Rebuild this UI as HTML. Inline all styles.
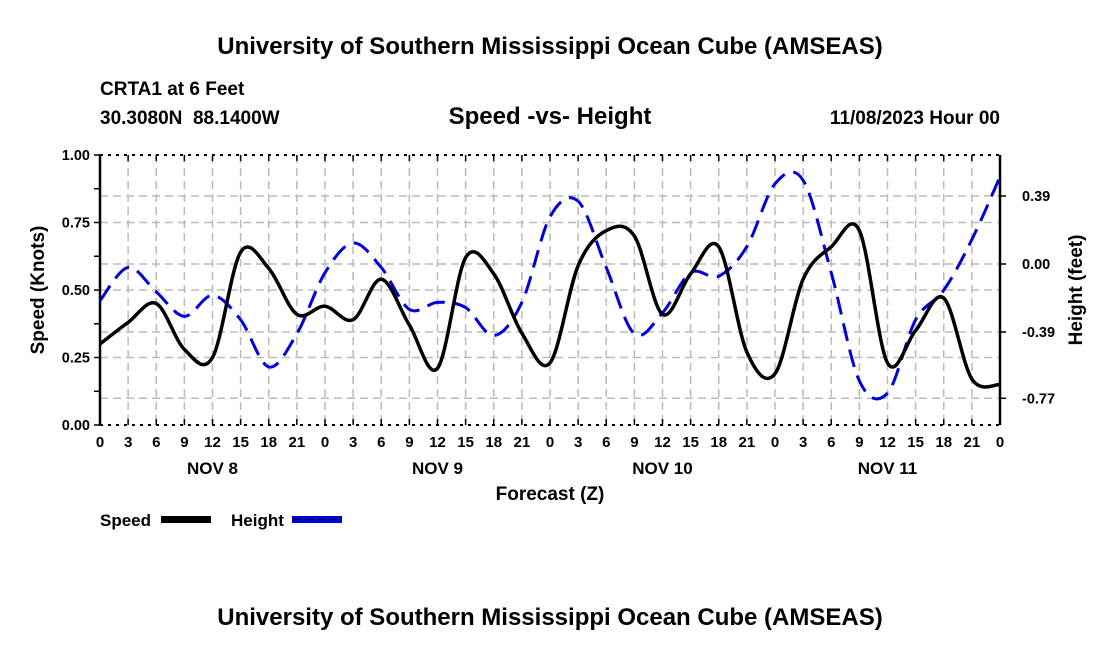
<!DOCTYPE html>
<html><head><meta charset="utf-8"><style>
body{margin:0;background:#fff;width:1100px;height:650px;overflow:hidden}
svg text{font-family:"Liberation Sans",Arial,sans-serif;font-weight:bold;fill:#000}
</style></head><body>
<svg id="chart" width="1100" height="650" xmlns="http://www.w3.org/2000/svg">
<text x="550" y="54" font-size="24" text-anchor="middle">University of Southern Mississippi Ocean Cube (AMSEAS)</text>
<text x="100" y="95" font-size="19">CRTA1 at 6 Feet</text>
<text x="100" y="124" font-size="19">30.3080N &#160;88.1400W</text>
<text x="550" y="124" font-size="24" text-anchor="middle">Speed -vs- Height</text>
<text x="1000" y="124" font-size="19" text-anchor="end">11/08/2023 Hour 00</text>
<g id="grid"></g>
<g id="axes"></g>
<g id="series"></g>
<text transform="translate(44,290) rotate(-90)" font-size="19" text-anchor="middle">Speed (Knots)</text>
<text transform="translate(1082,290) rotate(-90)" font-size="19" text-anchor="middle">Height (feet)</text>
<text x="550" y="500" font-size="19" text-anchor="middle">Forecast (Z)</text>
<g>
<text x="100" y="526" font-size="17">Speed</text>
<rect x="161" y="516" width="50" height="7" fill="#000"/>
<text x="231" y="526" font-size="17">Height</text>
<rect x="292" y="516" width="50" height="7" fill="#0000dd"/>
<line x1="294" y1="519.5" x2="342" y2="519.5" stroke="#000" stroke-width="1" stroke-dasharray="7 5"/>
</g>
<text x="550" y="625" font-size="24" text-anchor="middle">University of Southern Mississippi Ocean Cube (AMSEAS)</text>
</svg>
<script>
const hours=[0,3,6,9,12,15,18,21,24,27,30,33,36,39,42,45,48,51,54,57,60,63,66,69,72,75,78,81,84,87,90,93,96];
const speed=[0.30,0.38,0.45,0.28,0.25,0.64,0.58,0.41,0.44,0.39,0.54,0.37,0.21,0.62,0.56,0.34,0.23,0.59,0.72,0.70,0.41,0.56,0.66,0.27,0.19,0.54,0.66,0.72,0.23,0.35,0.47,0.17,0.15];
const height=[-0.21,-0.02,-0.16,-0.30,-0.18,-0.32,-0.59,-0.40,-0.05,0.12,-0.02,-0.26,-0.22,-0.25,-0.41,-0.22,0.27,0.36,-0.02,-0.40,-0.28,-0.05,-0.07,0.10,0.46,0.48,-0.05,-0.67,-0.74,-0.32,-0.15,0.14,0.50];
const speedTicks=[0,0.25,0.5,0.75,1.0];
const speedTickLabels=["0.00","0.25","0.50","0.75","1.00"];
const heightTicks=[0.39,0,-0.39,-0.77];
const heightTickLabels=["0.39","0.00","-0.39","-0.77"];
const dayLabels=["NOV 8","NOV 9","NOV 10","NOV 11"];
const dayHours=[12,36,60,84];

const X0=100,X1=1000,Y0=425,Y1=155;
const xs=h=>X0+(X1-X0)*h/96;
const ys=v=>Y0-(Y0-Y1)*v/1.0;
const yh=v=>264-v*174.4;
const NS="http://www.w3.org/2000/svg";
function mk(parent,tag,attrs){const e=document.createElementNS(NS,tag);for(const k in attrs)e.setAttribute(k,attrs[k]);parent.appendChild(e);return e;}
const grid=document.getElementById('grid'),axes=document.getElementById('axes'),series=document.getElementById('series');
const gs={stroke:"#bbb","stroke-width":1.5,"stroke-dasharray":"8 5"};
hours.forEach((h,i)=>{if(i>0&&i<hours.length-1){const l=mk(grid,'line',Object.assign({x1:xs(h),x2:xs(h),y1:Y1,y2:Y0},gs));

}});
[0.25,0.5,0.75].forEach(v=>{const l=mk(grid,'line',Object.assign({x1:X0,x2:X1,y1:ys(v),y2:ys(v)},gs));

});
heightTicks.forEach(v=>{const l=mk(grid,'line',Object.assign({x1:X0,x2:X1,y1:yh(v),y2:yh(v)},gs));

});
mk(axes,'line',{x1:X0,x2:X0,y1:Y1,y2:Y0,stroke:"#000","stroke-width":2.5});
mk(axes,'line',{x1:X1,x2:X1,y1:Y1,y2:Y0,stroke:"#000","stroke-width":2.5});
mk(axes,'line',{x1:X0,x2:X1,y1:Y1,y2:Y1,stroke:"#000","stroke-width":2,"stroke-dasharray":"3 5"});
mk(axes,'line',{x1:X0,x2:X1,y1:Y0,y2:Y0,stroke:"#000","stroke-width":2,"stroke-dasharray":"3 5"});
hours.forEach((h,i)=>{
 mk(axes,'line',{x1:xs(h),x2:xs(h),y1:Y0-6,y2:Y0,stroke:"#000","stroke-width":1.5});
 mk(axes,'line',{x1:xs(h),x2:xs(h),y1:Y1,y2:Y1+6,stroke:"#000","stroke-width":1.5});
 const t=mk(axes,'text',{x:xs(h),y:447,"font-size":15,"text-anchor":"middle"});t.textContent=String(h%24);
 
 
});
dayLabels.forEach((d,i)=>{const t=mk(axes,'text',{x:xs(dayHours[i]),y:474,"font-size":17,"text-anchor":"middle"});t.textContent=d;

});
for(let v=0;v<=1.0001;v+=0.125){mk(axes,'line',{x1:X0-6,x2:X0,y1:ys(v),y2:ys(v),stroke:"#000","stroke-width":1.5});}
speedTicks.forEach((v,i)=>{const t=mk(axes,'text',{x:X0-10,y:ys(v)+5,"font-size":14.5,"text-anchor":"end"});t.textContent=speedTickLabels[i];

});
heightTicks.forEach((v,i)=>{mk(axes,'line',{x1:X1,x2:X1+6,y1:yh(v),y2:yh(v),stroke:"#000","stroke-width":1.5});
const t=mk(axes,'text',{x:X1+22,y:yh(v)+5,"font-size":14.5,"text-anchor":"start"});t.textContent=heightTickLabels[i];

});
function smooth(pts){let d=`M${pts[0][0]},${pts[0][1]}`;for(let i=0;i<pts.length-1;i++){const p0=pts[i-1]||pts[i],p1=pts[i],p2=pts[i+1],p3=pts[i+2]||p2;
d+=` C${p1[0]+(p2[0]-p0[0])/6},${p1[1]+(p2[1]-p0[1])/6} ${p2[0]-(p3[0]-p1[0])/6},${p2[1]-(p3[1]-p1[1])/6} ${p2[0]},${p2[1]}`;}return d;}
const hp=mk(series,'path',{d:smooth(hours.map((h,i)=>[xs(h),yh(height[i])])),fill:"none",stroke:"#0000dd","stroke-width":3,"stroke-dasharray":"18 9"});


const sp=mk(series,'path',{d:smooth(hours.map((h,i)=>[xs(h),ys(speed[i])])),fill:"none",stroke:"#000","stroke-width":3.5});


</script>
</body></html>
